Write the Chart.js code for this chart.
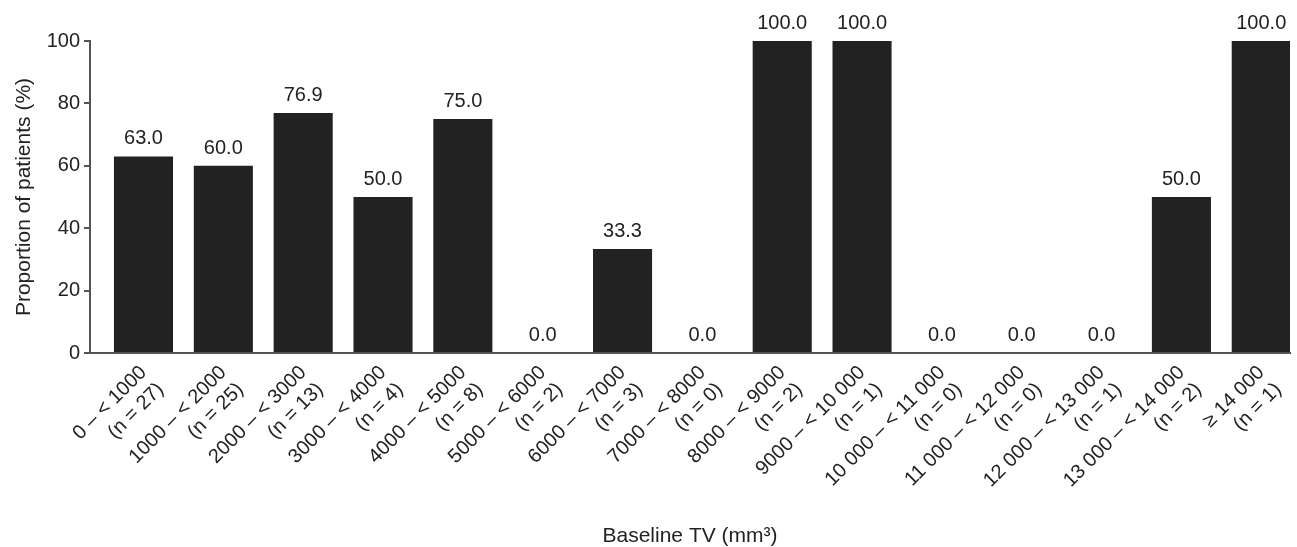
<!DOCTYPE html>
<html>
<head>
<meta charset="utf-8">
<script src="https://cdn.jsdelivr.net/npm/chart.js@4.4.1/dist/chart.umd.min.js"></script>
<style>
  html, body { margin: 0; padding: 0; background: #fff; }
  #wrap { width: 1297px; height: 547px; }
</style>
</head>
<body>
<div id="wrap"><canvas id="c" width="1297" height="547"></canvas></div>
<script>
const binLabels = ["0 – < 1000", "1000 – < 2000", "2000 – < 3000", "3000 – < 4000", "4000 – < 5000",
  "5000 – < 6000", "6000 – < 7000", "7000 – < 8000", "8000 – < 9000", "9000 – < 10 000",
  "10 000 – < 11 000", "11 000 – < 12 000", "12 000 – < 13 000", "13 000 – < 14 000", "≥ 14 000"];
const patientCounts = [27, 25, 13, 4, 8, 2, 3, 0, 2, 1, 0, 0, 1, 2, 1];
const proportions = [63.0, 60.0, 76.9, 50.0, 75.0, 0.0, 33.3, 0.0, 100.0, 100.0, 0.0, 0.0, 0.0, 50.0, 100.0];
const yTicks = [0, 20, 40, 60, 80, 100];

const FONT = "'Liberation Sans', Arial, Helvetica, sans-serif";
const TEXT = '#222222';
const AXIS = '#555555';

const valueLabels = {
  id: 'valueLabels',
  afterDatasetsDraw(chart) {
    const ctx = chart.ctx;
    const meta = chart.getDatasetMeta(0);
    ctx.save();
    ctx.font = '20px ' + FONT;
    ctx.fillStyle = TEXT;
    ctx.textAlign = 'center';
    ctx.textBaseline = 'alphabetic';
    meta.data.forEach((bar, i) => {
      ctx.fillText(proportions[i].toFixed(1), bar.x, bar.y - 12);
    });
    ctx.restore();
  }
};

new Chart(document.getElementById('c'), {
  type: 'bar',
  data: {
    datasets: [{
      data: proportions.map((v, i) => ({ x: i, y: v })),
      backgroundColor: '#222222',
      borderWidth: 0,
      barPercentage: 0.74,
      categoryPercentage: 1.0
    }]
  },
  options: {
    responsive: false,
    animation: false,
    layout: { padding: { left: 12, right: 7, top: 41, bottom: 0 } },
    plugins: { legend: { display: false }, tooltip: { enabled: false } },
    scales: {
      x: {
        type: 'linear',
        offset: false,
        min: -0.67,
        max: 14.36,
        grid: { display: false },
        border: { display: true, color: AXIS, width: 2 },
        afterBuildTicks(scale) {
          scale.ticks = proportions.map((_, i) => ({ value: i }));
        },
        afterFit(scale) { scale.height = 194; },
        ticks: {
          autoSkip: false,
          maxRotation: 45,
          minRotation: 45,
          color: TEXT,
          font: { family: FONT, size: 20 },
          padding: 0,
          callback: (value) => [binLabels[value], '(n = ' + patientCounts[value] + ')']
        },
        title: {
          display: true,
          text: 'Baseline TV (mm³)',
          color: TEXT,
          font: { family: FONT, size: 21, lineHeight: 1.0 },
          padding: { top: 0, bottom: 0 }
        }
      },
      y: {
        min: 0,
        max: 100,
        afterBuildTicks(scale) {
          scale.ticks = yTicks.map(v => ({ value: v }));
        },
        afterFit(scale) { scale.width = 78; },
        grid: { drawOnChartArea: false, drawTicks: true, tickLength: 6, color: AXIS, lineWidth: 2 },
        border: { display: true, color: AXIS, width: 2 },
        ticks: {
          color: TEXT,
          font: { family: FONT, size: 20 },
          padding: 4
        },
        title: {
          display: true,
          text: 'Proportion of patients (%)',
          color: TEXT,
          font: { family: FONT, size: 21 },
          padding: { top: 0, bottom: 4 }
        }
      }
    }
  },
  plugins: [valueLabels]
});
</script>
</body>
</html>
